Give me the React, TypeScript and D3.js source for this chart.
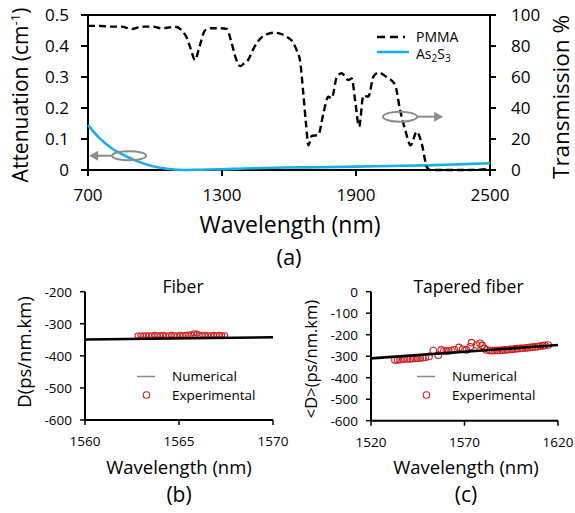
import React from "react";
import * as d3 from "d3";

const FONT = "'Open Sans', sans-serif";

// (a) PMMA transmission (%) and As2S3 attenuation (cm-1)
const pmmaWl = [700, 750, 800, 850, 895, 940, 990, 1030, 1090, 1140, 1160, 1179, 1200, 1224, 1254, 1290, 1321, 1343, 1362, 1381, 1400, 1417, 1440, 1461, 1500, 1537, 1560, 1590, 1619, 1635, 1649, 1664, 1676, 1687, 1702, 1731, 1754, 1776, 1791, 1814, 1836, 1866, 1881, 1896, 1914, 1933, 1955, 1978, 2000, 2037, 2075, 2097, 2120, 2145, 2172, 2194, 2217, 2231, 2300, 2400, 2480, 2500];
const pmmaT = [93, 93, 92.5, 92.5, 91, 92.5, 92.5, 91.4, 92.4, 86, 78, 71, 80, 90, 91.5, 91.5, 91, 82, 72, 67, 69, 71, 78, 83, 87.5, 88.6, 88, 86, 82, 77, 71, 49.5, 30, 16, 22, 22.6, 36.5, 47.3, 46.2, 60, 62.4, 58, 59, 45, 28, 48, 47.3, 60.2, 62.8, 60, 55, 39, 26, 16, 24.7, 17.2, 2, 0, 0, 0, 0.5, 1.2];
const as2s3Wl = [700, 746, 806, 866, 925, 985, 1060, 1134, 1200, 1283, 1400, 1582, 1750, 1900, 2050, 2217, 2350, 2500];
const as2s3Att = [0.145, 0.107, 0.07, 0.046, 0.027, 0.013, 0.003, 0, 0.001, 0.002, 0.005, 0.008, 0.009, 0.011, 0.013, 0.015, 0.018, 0.022];

const topXTicks = [700, 1300, 1900, 2500];
const attTicks = [0, 0.1, 0.2, 0.3, 0.4, 0.5];
const transTicks = [0, 20, 40, 60, 80, 100];

// (b) fiber dispersion
const fiberNumWl = [1560, 1570];
const fiberNumD = [-349, -342];
const fiberExpWl = [1562.8, 1562.95, 1563.1, 1563.25, 1563.4, 1563.55, 1563.7, 1563.85, 1564.0, 1564.15, 1564.3, 1564.45, 1564.6, 1564.75, 1564.9, 1565.05, 1565.2, 1565.35, 1565.5, 1565.65, 1565.8, 1565.95, 1566.1, 1566.25, 1566.4, 1566.55, 1566.7, 1566.85, 1567.0, 1567.15, 1567.3, 1567.45];
const fiberExpD = [-337, -336, -337, -336, -336, -337, -335, -336, -336, -335, -337, -336, -335, -336, -337, -335, -336, -335, -334, -333, -330, -331, -335, -336, -335, -336, -336, -335, -336, -335, -336, -336];
const fiberXTicks = [1560, 1565, 1570];
const fiberYTicks = [-200, -300, -400, -500, -600];

// (c) tapered fiber average dispersion
const taperNumWl = [1520, 1620];
const taperNumD = [-310, -248];
const taperExpWl = [1532.8, 1534.2, 1535.5, 1537, 1538, 1539.5, 1541, 1542.3, 1543.6, 1545, 1546.3, 1547.6, 1549, 1551, 1553.3, 1556, 1557.6, 1559, 1560.3, 1561.6, 1563, 1564.6, 1567, 1569, 1571, 1573, 1573.8, 1576.5, 1578.3, 1579.5, 1580.6, 1581.8, 1583.6, 1585, 1586.3, 1587.6, 1589, 1590.3, 1591.6, 1593, 1594.3, 1595.6, 1597, 1598.3, 1599.7, 1601, 1602.4, 1603.7, 1605, 1606.4, 1607.8, 1609.2, 1610.5, 1611.8, 1613, 1614.8];
const taperExpD = [-318, -317, -316, -314, -313, -313, -312, -311, -310, -309, -308, -307, -306, -301, -274, -295, -271, -275, -276, -275, -274, -269, -259, -268, -271, -256, -237, -248, -240, -250, -264, -271, -274, -274, -274, -273, -273, -272, -271, -270, -268, -268, -266, -265, -264, -263, -262, -261, -259, -258, -257, -255, -253, -252, -250, -248];
const taperXTicks = [1520, 1570, 1620];
const taperYTicks = [0, -100, -200, -300, -400, -500, -600];

const RED = "#cc2222";
const BLUE = "#18aee6";
const GREY = "#8c8c8c";

function TopChart() {
  const x = d3.scaleLinear().domain([700, 2500]).range([88, 490]);
  const yL = d3.scaleLinear().domain([0, 0.5]).range([170, 15]);
  const yR = d3.scaleLinear().domain([0, 100]).range([170, 15]);
  const pmmaLine = d3
    .line<number>()
    .x((d, i) => x(pmmaWl[i]))
    .y((d) => yR(d))
    .curve(d3.curveMonotoneX);
  const asLine = d3
    .line<number>()
    .x((d, i) => x(as2s3Wl[i]))
    .y((d) => yL(d))
    .curve(d3.curveMonotoneX);

  // annotation ellipses with arrows
  const lcx = x(884), lcy = yL(0.046);
  const rcx = x(2097), rcy = yR(34.4);

  return (
    <g fontFamily={FONT}>
      <rect x={88} y={15} width={402} height={155} fill="none" stroke="#000" strokeWidth={2} />
      <path d={asLine(as2s3Att) || ""} fill="none" stroke={BLUE} strokeWidth={2.6} />
      <path d={pmmaLine(pmmaT) || ""} fill="none" stroke="#000" strokeWidth={2.4} strokeDasharray="7,4" />

      <ellipse cx={lcx} cy={lcy} rx={17} ry={4.5} fill="none" stroke={GREY} strokeWidth={2} />
      <line x1={lcx - 17} y1={lcy} x2={x(725)} y2={lcy} stroke={GREY} strokeWidth={2} />
      <path d={`M${x(705)},${lcy} l9,-5 v10 z`} fill={GREY} />
      <ellipse cx={rcx} cy={rcy} rx={17} ry={5} fill="none" stroke={GREY} strokeWidth={2} />
      <line x1={rcx + 17} y1={rcy} x2={x(2250)} y2={rcy} stroke={GREY} strokeWidth={2} />
      <path d={`M${x(2290)},${rcy} l-9,-5 v10 z`} fill={GREY} />

      {topXTicks.map((t) => (
        <g key={t}>
          <line x1={x(t)} x2={x(t)} y1={170} y2={176} stroke="#000" strokeWidth={2} />
          <text x={x(t)} y={201} fontSize={17} textAnchor="middle">{t}</text>
        </g>
      ))}
      {attTicks.map((t) => (
        <g key={t}>
          <line x1={81} x2={88} y1={yL(t)} y2={yL(t)} stroke="#000" strokeWidth={2} />
          <text x={69} y={yL(t) + 6} fontSize={17} textAnchor="end">{t === 0 ? "0" : t.toFixed(1)}</text>
        </g>
      ))}
      {transTicks.map((t) => (
        <g key={t}>
          <line x1={490} x2={496} y1={yR(t)} y2={yR(t)} stroke="#000" strokeWidth={2} />
          <text x={511} y={yR(t) + 6} fontSize={17} textAnchor="start">{t}</text>
        </g>
      ))}

      <text x={290} y={233} fontSize={23} textAnchor="middle">Wavelength (nm)</text>
      <text x={289} y={265} fontSize={22} textAnchor="middle">(a)</text>
      <text transform="translate(28,95) rotate(-90)" fontSize={21} textAnchor="middle">
        Attenuation (cm<tspan fontSize={13} dy={-8}>-1</tspan><tspan dy={8}>)</tspan>
      </text>
      <text transform="translate(569,97) rotate(-90)" fontSize={22.5} textAnchor="middle">Transmission %</text>

      <line x1={377} x2={405} y1={37} y2={37} stroke="#000" strokeWidth={2.4} strokeDasharray="8,5" />
      <text x={416} y={41.5} fontSize={14}>PMMA</text>
      <line x1={377} x2={409} y1={52} y2={52} stroke={BLUE} strokeWidth={2.6} />
      <text x={416} y={58.5} fontSize={14}>
        As<tspan fontSize={10} dy={3}>2</tspan><tspan dy={-3}>S</tspan><tspan fontSize={10} dy={3}>3</tspan>
      </text>
    </g>
  );
}

type PanelProps = {
  left: number;
  right: number;
  top: number;
  bottom: number;
  xDomain: [number, number];
  yDomain: [number, number];
  xTicks: number[];
  yTicks: number[];
  numWl: number[];
  numD: number[];
  expWl: number[];
  expD: number[];
  radius: number;
  title: string;
  yLabel: string;
  yLabelY: number;
  yLabelSize: number;
  letter: string;
  legendX: number;
  labelX: number;
};

function DispersionPanel(p: PanelProps) {
  const x = d3.scaleLinear().domain(p.xDomain).range([p.left, p.right]);
  const y = d3.scaleLinear().domain(p.yDomain).range([p.bottom, p.top]);
  const numLine = d3
    .line<number>()
    .x((d, i) => x(p.numWl[i]))
    .y((d) => y(d));
  return (
    <g fontFamily={FONT}>
      <line x1={p.left} x2={p.left} y1={p.top} y2={p.bottom} stroke="#000" strokeWidth={2} />
      <line x1={p.left} x2={p.right} y1={p.bottom} y2={p.bottom} stroke="#000" strokeWidth={2} />
      {p.yTicks.map((t) => (
        <g key={t}>
          <line x1={p.left - 5} x2={p.left} y1={y(t)} y2={y(t)} stroke="#000" strokeWidth={1.5} />
          <text x={p.left - 13} y={y(t) + 5} fontSize={13.5} textAnchor="end">{t}</text>
        </g>
      ))}
      {p.xTicks.map((t) => (
        <g key={t}>
          <line x1={x(t)} x2={x(t)} y1={p.bottom} y2={p.bottom + 5} stroke="#000" strokeWidth={1.5} />
          <text x={x(t)} y={p.bottom + 26} fontSize={13.5} textAnchor="middle">{t}</text>
        </g>
      ))}
      {p.expWl.map((w, i) => (
        <circle key={i} cx={x(w)} cy={y(p.expD[i])} r={p.radius} fill="none" stroke={RED} strokeWidth={1.1} />
      ))}
      <path d={numLine(p.numD) || ""} fill="none" stroke="#000" strokeWidth={2.6} />

      <text x={(p.left + p.right) / 2 + 4} y={293} fontSize={17.5} textAnchor="middle">{p.title}</text>

      <line x1={p.legendX} x2={p.legendX + 18} y1={376.5} y2={376.5} stroke={GREY} strokeWidth={1.5} />
      <text x={p.legendX + 35} y={381} fontSize={13.5}>Numerical</text>
      <circle cx={p.legendX + 9.5} cy={395} r={3.3} fill="none" stroke={RED} strokeWidth={1.1} />
      <text x={p.legendX + 35} y={400} fontSize={13.5}>Experimental</text>

      <text x={p.labelX} y={474} fontSize={18.5} textAnchor="middle">Wavelength (nm)</text>
      <text x={p.labelX} y={502} fontSize={21} textAnchor="middle">{p.letter}</text>
      <text transform={`translate(${p.left - 54},${p.yLabelY}) rotate(-90)`} fontSize={p.yLabelSize} textAnchor="middle">{p.yLabel}</text>
    </g>
  );
}

export default function App() {
  return (
    <svg
      width={575}
      height={513}
      style={{ position: "absolute", left: 0, top: 0, background: "#fff" }}
    >
      <TopChart />
      <DispersionPanel
        left={85}
        right={273}
        top={291.7}
        bottom={420}
        xDomain={[1560, 1570]}
        yDomain={[-600, -200]}
        xTicks={fiberXTicks}
        yTicks={fiberYTicks}
        numWl={fiberNumWl}
        numD={fiberNumD}
        expWl={fiberExpWl}
        expD={fiberExpD}
        radius={2.6}
        title="Fiber"
        yLabel="D(ps/nm.km)"
        yLabelY={352}
        yLabelSize={18.5}
        letter="(b)"
        legendX={137}
        labelX={179}
      />
      <DispersionPanel
        left={371}
        right={558}
        top={291.7}
        bottom={420.7}
        xDomain={[1520, 1620]}
        yDomain={[-600, 0]}
        xTicks={taperXTicks}
        yTicks={taperYTicks}
        numWl={taperNumWl}
        numD={taperNumD}
        expWl={taperExpWl}
        expD={taperExpD}
        radius={3.3}
        title="Tapered fiber"
        yLabel="<D>(ps/nm.km)"
        yLabelY={359}
        yLabelSize={16.5}
        letter="(c)"
        legendX={417}
        labelX={466}
      />
    </svg>
  );
}
